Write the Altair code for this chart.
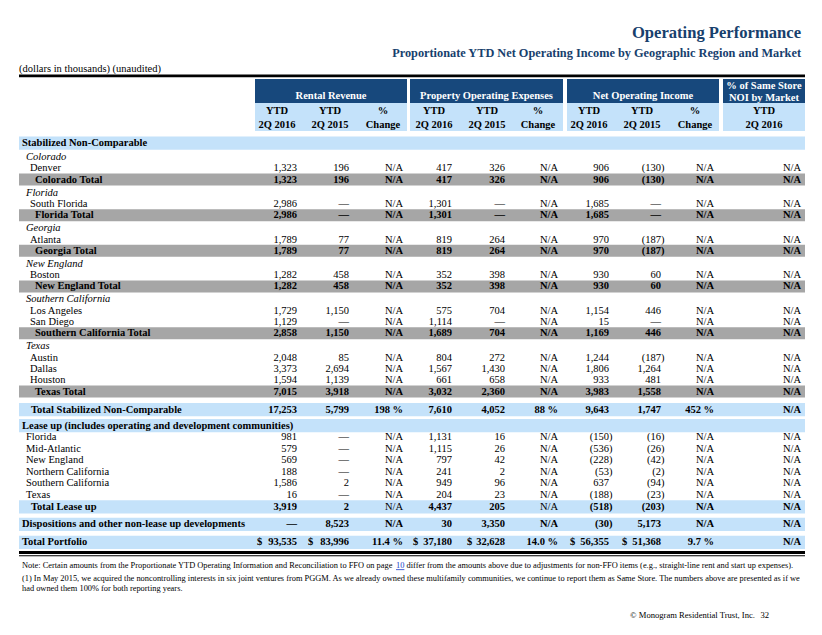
import altair as alt
import pandas as pd

# ---------------- data ----------------
title = "Operating Performance"
subtitle = "Proportionate YTD Net Operating Income by Geographic Region and Market"
units = "(dollars in thousands) (unaudited)"
groups = ["Rental Revenue", "Property Operating Expenses", "Net Operating Income", "% of Same Store|NOI by Market"]
col_head1 = ["YTD", "YTD", "%", "YTD", "YTD", "%", "YTD", "YTD", "%", "YTD"]
col_head2 = ["2Q 2016", "2Q 2015", "Change", "2Q 2016", "2Q 2015", "Change", "2Q 2016", "2Q 2015", "Change", "2Q 2016"]

labels = ["Stabilized Non-Comparable", "Colorado", "Denver", "Colorado Total", "Florida", "South Florida",
          "Florida Total", "Georgia", "Atlanta", "Georgia Total", "New England", "Boston", "New England Total",
          "Southern California", "Los Angeles", "San Diego", "Southern California Total", "Texas", "Austin",
          "Dallas", "Houston", "Texas Total", "Total Stabilized Non-Comparable",
          "Lease up (includes operating and development communities)", "Florida", "Mid-Atlantic", "New England",
          "Northern California", "Southern California", "Texas", "Total Lease up",
          "Dispositions and other non-lease up developments", "Total Portfolio"]
kinds = ["section", "region", "market", "subtotal", "region", "market", "subtotal", "region", "market", "subtotal",
         "region", "market", "subtotal", "region", "market", "market", "subtotal", "region", "market", "market",
         "market", "subtotal", "sectiontotal", "leasesection", "leaseitem", "leaseitem", "leaseitem", "leaseitem",
         "leaseitem", "leaseitem", "leasetotal", "disp", "portfolio"]

rr16 = ["", "", "1,323", "1,323", "", "2,986", "2,986", "", "1,789", "1,789", "", "1,282", "1,282", "", "1,729",
        "1,129", "2,858", "", "2,048", "3,373", "1,594", "7,015", "17,253", "", "981", "579", "569", "188", "1,586",
        "16", "3,919", "—", "93,535"]
rr15 = ["", "", "196", "196", "", "—", "—", "", "77", "77", "", "458", "458", "", "1,150", "—", "1,150", "", "85",
        "2,694", "1,139", "3,918", "5,799", "", "—", "—", "—", "—", "2", "—", "2", "8,523", "83,996"]
rrpct = ["", "", "N/A", "N/A", "", "N/A", "N/A", "", "N/A", "N/A", "", "N/A", "N/A", "", "N/A", "N/A", "N/A", "",
         "N/A", "N/A", "N/A", "N/A", "198 %", "", "N/A", "N/A", "N/A", "N/A", "N/A", "N/A", "N/A", "N/A", "11.4 %"]
poe16 = ["", "", "417", "417", "", "1,301", "1,301", "", "819", "819", "", "352", "352", "", "575", "1,114",
         "1,689", "", "804", "1,567", "661", "3,032", "7,610", "", "1,131", "1,115", "797", "241", "949", "204",
         "4,437", "30", "37,180"]
poe15 = ["", "", "326", "326", "", "—", "—", "", "264", "264", "", "398", "398", "", "704", "—", "704", "", "272",
         "1,430", "658", "2,360", "4,052", "", "16", "26", "42", "2", "96", "23", "205", "3,350", "32,628"]
poepct = ["", "", "N/A", "N/A", "", "N/A", "N/A", "", "N/A", "N/A", "", "N/A", "N/A", "", "N/A", "N/A", "N/A", "",
          "N/A", "N/A", "N/A", "N/A", "88 %", "", "N/A", "N/A", "N/A", "N/A", "N/A", "N/A", "N/A", "N/A", "14.0 %"]
noi16 = ["", "", "906", "906", "", "1,685", "1,685", "", "970", "970", "", "930", "930", "", "1,154", "15",
         "1,169", "", "1,244", "1,806", "933", "3,983", "9,643", "", "(150)", "(536)", "(228)", "(53)", "637",
         "(188)", "(518)", "(30)", "56,355"]
noi15 = ["", "", "(130)", "(130)", "", "—", "—", "", "(187)", "(187)", "", "60", "60", "", "446", "—", "446", "",
         "(187)", "1,264", "481", "1,558", "1,747", "", "(16)", "(26)", "(42)", "(2)", "(94)", "(23)", "(203)",
         "5,173", "51,368"]
noipct = ["", "", "N/A", "N/A", "", "N/A", "N/A", "", "N/A", "N/A", "", "N/A", "N/A", "", "N/A", "N/A", "N/A", "",
          "N/A", "N/A", "N/A", "N/A", "452 %", "", "N/A", "N/A", "N/A", "N/A", "N/A", "N/A", "N/A", "N/A", "9.7 %"]
ss16 = ["", "", "N/A", "N/A", "", "N/A", "N/A", "", "N/A", "N/A", "", "N/A", "N/A", "", "N/A", "N/A", "N/A", "",
        "N/A", "N/A", "N/A", "N/A", "N/A", "", "N/A", "N/A", "N/A", "N/A", "N/A", "N/A", "N/A", "N/A", "N/A"]
columns = [rr16, rr15, rrpct, poe16, poe15, poepct, noi16, noi15, noipct, ss16]

note1_parts = ["Note: Certain amounts from the Proportionate YTD Operating Information and Reconciliation to FFO on page ",
               "10",
               " differ from the amounts above due to adjustments for non-FFO items (e.g., straight-line rent and start up expenses)."]
note2a = ("(1) In May 2015, we acquired the noncontrolling interests in six joint ventures from PGGM.  As we already owned "
          "these multifamily communities, we continue to report them as Same Store.  The numbers above are presented as if we")
note2b = "had owned them 100% for both reporting years."
footer_text = "© Monogram Residential Trust, Inc."
page_number = "32"

# ---------------- layout (styles / geometry) ----------------
W, H = 806, 619
FONT = "Liberation Serif"
NAVY = "#17406d"
HDR = "#17487c"
LBLUE = "#c4e2fa"
GREY = "#a6a6a6"
LINK = "#1a3cc8"
FS = 10.5
NFS = 8.4

xs = alt.Scale(domain=[8, 8 + W], range=[0, W])
ys = alt.Scale(domain=[8, 8 + H], range=[0, H])

# Times/Liberation Serif advance widths (per 1000 em) for measuring the footnote link position
_tw = {' ': 250, 'N': 722, 'o': 500, 't': 278, 'e': 444, ':': 278, 'C': 667, 'r': 333, 'a': 444, 'i': 278,
       'n': 500, 'm': 778, 'u': 500, 's': 389, 'f': 333, 'h': 500, 'P': 556, 'p': 500, 'Y': 722, 'T': 611,
       'D': 722, 'O': 722, 'g': 500, 'I': 333, 'R': 667, 'c': 444, 'l': 278, 'F': 556, 'd': 500}


def text_width(s, size):
    return sum(_tw.get(ch, 500) for ch in s) * size / 1000.0


step = {"section": 0, "region": 13, "market": 11.3, "subtotal": 11.3, "sectiontotal": 18, "leasesection": 16,
        "leaseitem": 11.5, "leasetotal": 12.3, "disp": 17.5, "portfolio": 18}
indent = {"section": 22, "region": 26, "market": 30, "subtotal": 35, "sectiontotal": 31, "leasesection": 22,
          "leaseitem": 26, "leasetotal": 31, "disp": 22, "portfolio": 22}
row_y = []
yy = 143
for i, k in enumerate(kinds):
    if i > 0:
        yy += step[k] + (1 if (k == "region" and kinds[i - 1] == "section") else 0)
    row_y.append(yy)

col_right = [297, 349, 403, 452, 505, 558, 609, 661, 714, 801]
col_center = [277, 330, 383, 434, 487, 538, 589, 642, 695, 764]
dollar_x = [257, 308, None, 413, 467, None, 570, 622, None, None]
boxes = [(255, 407), (410, 563), (567, 719), (723, 805)]

NOTE_X = 22
link_x0 = NOTE_X + text_width(note1_parts[0], NFS)
link_x1 = link_x0 + text_width(note1_parts[1], NFS)
rest_x = link_x1 + text_width(" ", NFS)

rects = []
for x0, x1 in boxes:
    rects.append(dict(x=x0, x2=x1, y=79, y2=103, c=HDR))
    rects.append(dict(x=x0, x2=x1, y=103, y2=131, c=LBLUE))
rects.append(dict(x=19, x2=805, y=74.5, y2=77.2, c="#000000"))
rects.append(dict(x=19, x2=805, y=551, y2=554, c="#000000"))
rects.append(dict(x=19, x2=805, y=555.2, y2=556.2, c="#000000"))
rects.append(dict(x=link_x0, x2=link_x1, y=569.3, y2=570.1, c=LINK))
for k, yv in zip(kinds, row_y):
    if k == "subtotal":
        rects.append(dict(x=19, x2=805, y=yv - 6, y2=yv + 6, c=GREY))
    elif k in ("section", "sectiontotal", "leasesection", "leasetotal", "disp", "portfolio"):
        rects.append(dict(x=19, x2=805, y=yv - 6.5, y2=yv + 6.8, c=LBLUE))
rect_df = pd.DataFrame(rects)

texts = []


def add(t, x, y, align="left", weight="normal", style="normal", size=FS, color="#000000"):
    texts.append(dict(t=t, x=x, y=y, align=align, weight=weight, style=style, size=size, color=color))


add(title, 801, 33, "right", "bold", size=16.6, color=NAVY)
add(subtitle, 801, 53, "right", "bold", size=12.3, color=NAVY)
add(units, 19, 69, size=10.5)
centers = [(a + b) / 2 for a, b in boxes]
for g, cx in zip(groups, centers):
    parts = g.split("|")
    if len(parts) == 1:
        add(parts[0], cx, 96, "center", "bold", color="#ffffff")
    else:
        add(parts[0], cx, 86, "center", "bold", color="#ffffff")
        add(parts[1], cx, 98, "center", "bold", color="#ffffff")
for h1, h2, cx in zip(col_head1, col_head2, col_center):
    add(h1, cx, 111, "center", "bold")
    add(h2, cx, 125, "center", "bold")

bold_kinds = {"subtotal", "section", "sectiontotal", "leasesection", "leasetotal", "disp", "portfolio"}
for i, (lab, k, yv) in enumerate(zip(labels, kinds, row_y)):
    add(lab, indent[k], yv, "left", "bold" if k in bold_kinds else "normal",
        "italic" if k == "region" else "normal")
    for j, col in enumerate(columns):
        v = col[i]
        if not v:
            continue
        w = "bold" if k in bold_kinds else "normal"
        if k == "leasetotal" and j in (2, 5):
            w = "normal"
        xr = col_right[j] + (3.5 if v.endswith(")") else 0)
        add(v, xr, yv, "right", w)
        if k == "portfolio" and dollar_x[j] is not None:
            add("$", dollar_x[j], yv, "left", "bold")

add(note1_parts[0].strip(), NOTE_X, 565, size=NFS)
add(note1_parts[1], link_x0, 565, size=NFS, color=LINK)
add(note1_parts[2].strip(), rest_x, 565, size=NFS)
add(note2a, NOTE_X, 578, size=NFS)
add(note2b, NOTE_X, 587.5, size=NFS)
add(footer_text, 755, 615, "right", size=8.6)
add(page_number, 769, 615, "right", size=8.6)
text_df = pd.DataFrame(texts)

X = alt.X("x:Q", scale=xs, axis=None)
Y = alt.Y("y:Q", scale=ys, axis=None)

layers = [
    alt.Chart(rect_df).mark_rect().encode(
        x=X, x2="x2:Q", y=Y, y2="y2:Q", color=alt.Color("c:N", scale=None))
]
for (al, we, st, sz, co), sub in text_df.groupby(["align", "weight", "style", "size", "color"]):
    layers.append(
        alt.Chart(sub).mark_text(align=al, baseline="middle", font=FONT, fontWeight=we, fontStyle=st,
                                 fontSize=float(sz), color=co).encode(x=X, y=Y, text="t:N")
    )

chart = alt.layer(*layers).properties(
    width=W, height=H, autosize=alt.AutoSizeParams(type="none"), padding=0, background="#ffffff"
).configure_view(stroke=None)

chart.save("out.html", embed_options={"renderer": "svg", "actions": False})
